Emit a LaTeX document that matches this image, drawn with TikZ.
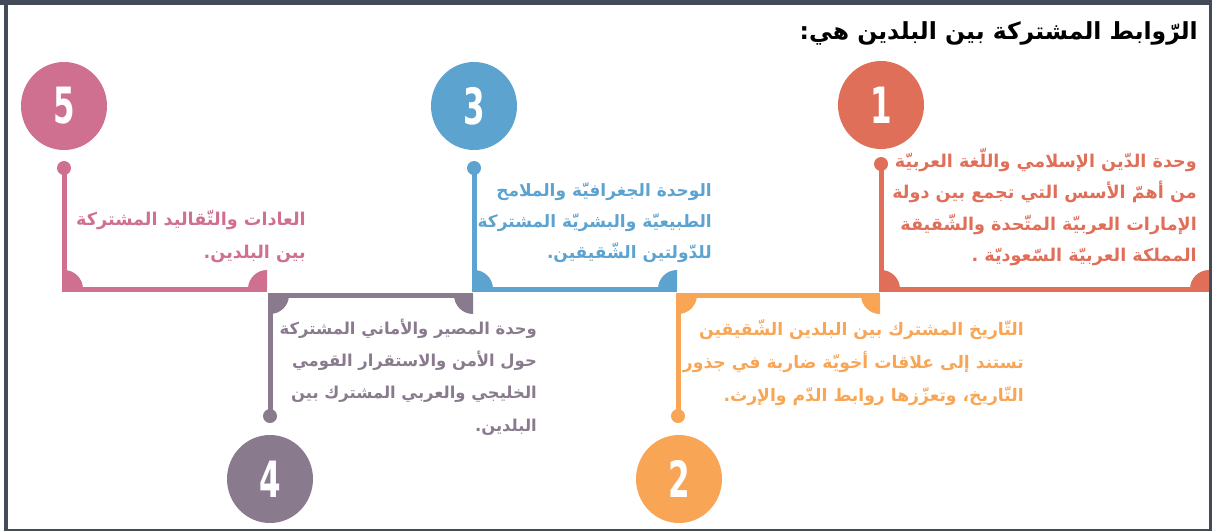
\documentclass[tikz,border=0pt]{standalone}
\usepackage{fontspec}
\usetikzlibrary{shapes.geometric}
\TeXXeTstate=1
\newfontfamily\arabicfont[Script=Arabic]{DejaVu Sans}
\newfontfamily\numfont[FakeStretch=0.62]{DejaVu Sans}
\definecolor{frm}{HTML}{434B56}
\definecolor{coral}{HTML}{DF6F59}
\definecolor{orng}{HTML}{F8A656}
\definecolor{blu}{HTML}{5CA3D0}
\definecolor{mauv}{HTML}{8A7A8E}
\definecolor{pnk}{HTML}{CF7090}
\newcommand\rtl[1]{\beginR #1\endR}
\tikzset{
  bar/.style={line width=5pt},
  num/.style={ellipse, minimum width=86pt, minimum height=88pt, inner sep=0pt, text=white,
    font=\numfont\bfseries\fontsize{50}{50}\selectfont},
  dotn/.style={circle, minimum size=14pt, inner sep=0pt},
  txt/.style={anchor=base east, inner sep=0pt, font=\arabicfont\bfseries\fontsize{17.6}{20}\selectfont},
  txtb/.style={txt, font=\arabicfont\bfseries\fontsize{17.0}{20}\selectfont},
  txto/.style={txt, font=\arabicfont\bfseries\fontsize{17.2}{20}\selectfont},
  txtm/.style={txt, font=\arabicfont\bfseries\fontsize{16.4}{20}\selectfont},
  ttl/.style={anchor=base east, inner sep=0pt, text=black, font=\arabicfont\bfseries\fontsize{23.5}{26}\selectfont},
}
\begin{document}
\begin{tikzpicture}[x=1pt,y=-1pt]
\useasboundingbox (0,0) rectangle (1212,531);
% frame
\fill[frm] (0,0) rectangle (1212,4.5);
\fill[frm] (4,0) rectangle (8,531);
\fill[frm] (1209,0) rectangle (1211.5,531);
\fill[frm] (4,529) rectangle (1212,531);

% title
\node[ttl] (title) at (1198,39) {\rtl{الرّوابط المشتركة بين البلدين هي:}};

% number circles
\node[num, fill=coral] (c1) at (881,105) {1};
\node[num, fill=orng]  (c2) at (679,479) {2};
\node[num, fill=blu]   (c3) at (474,106) {3};
\node[num, fill=mauv]  (c4) at (270,479) {4};
\node[num, fill=pnk]   (c5) at (64,106)  {5};

% dots
\node[dotn, fill=coral] (d1) at (881,164) {};
\node[dotn, fill=orng]  (d2) at (678,416) {};
\node[dotn, fill=blu]   (d3) at (474,168) {};
\node[dotn, fill=mauv]  (d4) at (270,416) {};
\node[dotn, fill=pnk]   (d5) at (64,168)  {};

% bracket corners
\coordinate (k1a) at (881,289);  \coordinate (k1b) at (1209,289);
\coordinate (k2a) at (678,295);  \coordinate (k2b) at (880,295);
\coordinate (k3a) at (474,289);  \coordinate (k3b) at (677,289);
\coordinate (k4a) at (270,295);  \coordinate (k4b) at (473,295);
\coordinate (k5a) at (64,289);   \coordinate (k5b) at (267,289);

% brackets
\draw[bar, coral] (d1.center) |- (k1b);
\fill[coral] (k1a) -- ++(19pt,0pt) arc[start angle=0,end angle=90,radius=19pt] -- cycle;
\fill[coral] (k1b) -- ++(0pt,19pt) arc[start angle=90,end angle=180,radius=19pt] -- cycle;

\draw[bar, blu] (d3.center) |- (k3b);
\fill[blu] (k3a) -- ++(19pt,0pt) arc[start angle=0,end angle=90,radius=19pt] -- cycle;
\fill[blu] (k3b) -- ++(0pt,19pt) arc[start angle=90,end angle=180,radius=19pt] -- cycle;

\draw[bar, pnk] (d5.center) |- (k5b);
\fill[pnk] (k5a) -- ++(19pt,0pt) arc[start angle=0,end angle=90,radius=19pt] -- cycle;
\fill[pnk] (k5b) -- ++(0pt,19pt) arc[start angle=90,end angle=180,radius=19pt] -- cycle;

\draw[bar, orng] (d2.center) |- (k2b);
\fill[orng] (k2a) -- ++(0pt,-19pt) arc[start angle=270,end angle=360,radius=19pt] -- cycle;
\fill[orng] (k2b) -- ++(-19pt,0pt) arc[start angle=180,end angle=270,radius=19pt] -- cycle;

\draw[bar, mauv] (d4.center) |- (k4b);
\fill[mauv] (k4a) -- ++(0pt,-19pt) arc[start angle=270,end angle=360,radius=19pt] -- cycle;
\fill[mauv] (k4b) -- ++(-19pt,0pt) arc[start angle=180,end angle=270,radius=19pt] -- cycle;

% texts 1
\node[txt, text=coral] (t1a) at (1197,167)   {\rtl{وحدة الدّين الإسلامي واللّغة العربيّة}};
\node[txt, text=coral] (t1b) at (1197,198.5) {\rtl{من أهمّ الأسس التي تجمع بين دولة}};
\node[txt, text=coral] (t1c) at (1197,230)   {\rtl{الإمارات العربيّة المتّحدة والشّقيقة}};
\node[txt, text=coral] (t1d) at (1197,261.5) {\rtl{المملكة العربيّة السّعوديّة .}};
% texts 3
\node[txtb, text=blu] (t3a) at (712,196) {\rtl{الوحدة الجغرافيّة والملامح}};
\node[txtb, text=blu] (t3b) at (712,227) {\rtl{الطبيعيّة والبشريّة المشتركة}};
\node[txtb, text=blu] (t3c) at (712,258) {\rtl{للدّولتين الشّقيقين.}};
% texts 5
\node[txt, text=pnk] (t5a) at (306,225) {\rtl{العادات والتّقاليد المشتركة}};
\node[txt, text=pnk] (t5b) at (306,258) {\rtl{بين البلدين.}};
% texts 4
\node[txtm, text=mauv] (t4a) at (537,334) {\rtl{وحدة المصير والأماني المشتركة}};
\node[txtm, text=mauv] (t4b) at (537,366) {\rtl{حول الأمن والاستقرار  القومي}};
\node[txtm, text=mauv] (t4c) at (537,398) {\rtl{الخليجي والعربي المشترك بين}};
\node[txtm, text=mauv] (t4d) at (537,431) {\rtl{البلدين.}};
% texts 2
\node[txto, text=orng] (t2a) at (1024,335) {\rtl{التّاريخ المشترك بين البلدين الشّقيقين}};
\node[txto, text=orng] (t2b) at (1024,368) {\rtl{تستند إلى علاقات أخويّة ضاربة في جذور}};
\node[txto, text=orng] (t2c) at (1024,401) {\rtl{التّاريخ،  وتعزّزها روابط الدّم والإرث.}};
\end{tikzpicture}
\end{document}
